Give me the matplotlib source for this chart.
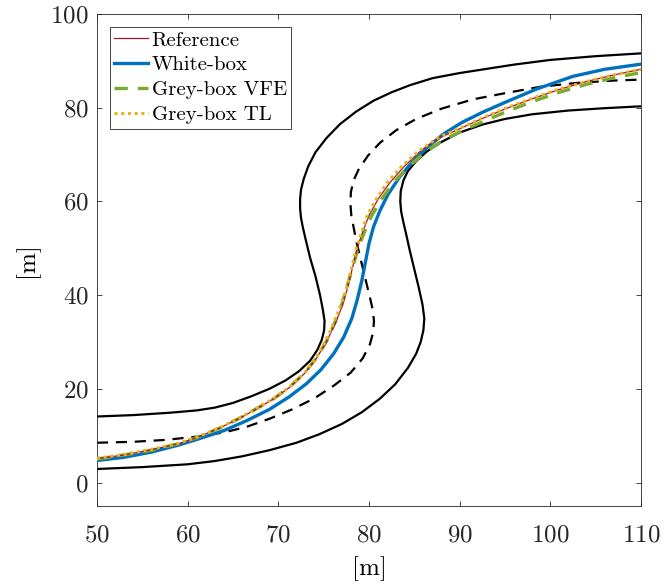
import numpy as np
import matplotlib
matplotlib.use("Agg")
import matplotlib.pyplot as plt

plt.rcParams['font.family'] = 'serif'
plt.rcParams['font.serif'] = ['cmr10']
plt.rcParams['mathtext.fontset'] = 'cm'
plt.rcParams['axes.unicode_minus'] = False
plt.rcParams['axes.formatter.use_mathtext'] = True

# road boundaries and centre line
ub_x = [50, 54, 58, 61, 63, 65, 67, 69, 70.8, 72.3, 73.5, 74.3, 74.8, 75.05, 75.1, 74.9, 74.6,
        74.1, 73.5, 73.0, 72.7, 72.5, 72.4, 72.4, 72.5, 72.8, 73.3, 74.1, 75.3, 76.8, 78.6, 80.5,
        82.5, 84.5, 87, 90, 93, 96, 100, 105, 110]
ub_y = [14.1, 14.4, 14.9, 15.4, 16.0, 17.0, 18.4, 20.0, 21.8, 23.8, 26.0, 28.3, 30.5, 32.5, 34.5,
        37.0, 40.0, 44.0, 48.0, 52.0, 54.5, 56.5, 58.5, 60.5, 62.5, 64.8, 67.5, 70.5, 73.5, 76.5,
        79.2, 81.5, 83.3, 84.8, 86.3, 87.4, 88.3, 89.2, 90.2, 91.0, 91.6]

lb_x = [50, 55, 60, 63, 66, 69, 72, 74.5, 77, 79.2, 81.2, 82.9, 84.3, 85.2, 85.7, 86.0, 86.1,
        85.9, 85.5, 85.0, 84.5, 84.1, 83.8, 83.55, 83.45, 83.5, 83.8, 84.3, 85.2, 86.4, 88.0, 90.0,
        92.5, 95, 98, 102, 106, 110]
lb_y = [2.9, 3.3, 3.9, 4.6, 5.6, 6.9, 8.5, 10.3, 12.5, 15.0, 17.9, 21.0, 24.5, 27.5, 30.0, 32.5,
        35.0, 38.0, 41.5, 45.5, 49.5, 53.0, 55.5, 57.8, 60.0, 62.2, 64.5, 66.5, 68.6, 70.7, 72.7,
        74.7, 76.4, 77.6, 78.6, 79.4, 79.9, 80.3]

cl_x = [50, 54, 57.5, 61, 64, 66.5, 69, 71.5, 74, 76.2, 78, 79.3, 80.1, 80.45, 80.55, 80.4, 80.1,
        79.6, 79.1, 78.6, 78.3, 78.05, 77.95, 78.0, 78.3, 78.9, 79.9, 81.2, 83.0, 85.2, 88.0, 91.5,
        95, 99, 103, 107, 110]
cl_y = [8.5, 8.7, 9.1, 9.8, 10.7, 11.9, 13.6, 15.6, 18.0, 20.8, 23.5, 26.5, 29.5, 32.0, 34.5,
        37.0, 39.5, 43.5, 47.5, 51.5, 54.5, 57.0, 59.5, 62.0, 64.5, 67.0, 69.8, 72.5, 75.2, 77.6,
        79.8, 81.8, 83.1, 84.5, 85.3, 85.8, 86.0]

# trajectories
ref_x = [50, 53, 56, 59, 61, 63.5, 65.8, 67.6, 69.5, 71.3, 72.9, 74.2, 75.3, 76.3, 77.1, 77.7,
         78.2, 78.7, 79.3, 80.0, 81.0, 82.3, 83.9, 85.7, 87.8, 90, 92.5, 95.2, 98, 101, 104, 107, 110]
ref_y = [5.1, 5.9, 7.0, 8.3, 9.6, 11.6, 13.8, 15.7, 17.9, 20.4, 23.3, 26.5, 30.0, 34.0, 38.0,
         42.0, 46.0, 50.0, 53.5, 57.0, 60.5, 64.0, 67.5, 70.8, 73.6, 75.5, 77.7, 79.9, 81.9, 83.9,
         85.6, 87.0, 88.2]

wb_x = [50, 53, 56, 59, 61.5, 64, 66.5, 69, 71.2, 73.1, 74.7, 76.1, 77.2, 78.1, 78.7, 79.2, 79.6,
        80.0, 80.5, 81.2, 82.1, 83.3, 84.8, 86.4, 88.3, 90.2, 92.6, 95.2, 98.5, 102.5, 106, 110]
wb_y = [4.7, 5.4, 6.5, 8.0, 9.5, 11.1, 13.2, 15.6, 18.3, 21.1, 24.1, 27.5, 31.0, 35.0, 39.0, 43.0,
        47.0, 51.0, 54.6, 58.0, 61.5, 65.0, 68.5, 71.5, 74.5, 76.8, 79.1, 81.3, 84.0, 86.7, 88.2, 89.3]

vfe_x = [50, 53, 56, 59, 61, 63.5, 65.8, 67.6, 69.5, 71.3, 72.9, 74.2, 75.3, 76.2, 77.0, 77.6,
         78.2, 78.8, 79.5, 80.3, 81.4, 82.7, 84.3, 86.1, 88.2, 90.4, 92.8, 95.2, 98, 101, 104, 107, 110]
vfe_y = [5.0, 5.9, 6.9, 8.3, 9.6, 11.6, 13.8, 15.8, 17.9, 20.5, 23.4, 26.6, 30.1, 34.0, 38.0,
         42.0, 46.0, 50.0, 53.5, 57.0, 60.5, 64.0, 67.3, 70.4, 73.1, 75.2, 77.2, 79.2, 81.3, 83.3,
         85.0, 86.4, 87.5]

tl_x = [50, 53, 56, 59, 61, 63.5, 65.8, 67.6, 69.5, 71.3, 72.9, 74.2, 75.2, 76.1, 76.9, 77.6,
        78.1, 78.6, 79.2, 79.8, 80.8, 82.0, 83.6, 85.5, 87.7, 90, 92.5, 95.2, 98, 101, 104, 107, 110]
tl_y = [5.2, 6.0, 7.1, 8.4, 9.7, 11.7, 13.9, 15.8, 18.0, 20.5, 23.4, 26.7, 30.2, 34.0, 38.0,
        42.0, 46.0, 50.0, 53.5, 57.0, 60.5, 64.0, 67.5, 70.8, 73.7, 75.6, 77.8, 80.0, 82.0, 84.0,
        85.6, 87.0, 88.2]

fig = plt.figure(figsize=(6.65, 5.88), dpi=100)
ax = fig.add_axes([97 / 665, 82 / 588, 544 / 665, 492 / 588])

ax.plot(ub_x, ub_y, color='black', lw=1.6, zorder=2)
ax.plot(lb_x, lb_y, color='black', lw=1.6, zorder=2)
ax.plot(cl_x, cl_y, color='black', lw=1.6, ls=(0, (5, 3.5)), zorder=2)

h_wb, = ax.plot(wb_x, wb_y, color='#0072BD', lw=2.4, label='White-box', zorder=3)
h_vfe, = ax.plot(vfe_x, vfe_y, color='#77AC30', lw=2.4, ls=(0, (4, 3)), label='Grey-box VFE', zorder=4)
h_ref, = ax.plot(ref_x, ref_y, color='#A2142F', lw=0.9, label='Reference', zorder=5)
h_tl, = ax.plot(tl_x, tl_y, color='#EDB120', lw=2.2, ls=(0, (1, 1.2)), label='Grey-box TL', zorder=6)

ax.set_xlim(50, 110)
ax.set_ylim(-5, 100)
ax.set_xticks([50, 60, 70, 80, 90, 100, 110])
ax.set_yticks([0, 20, 40, 60, 80, 100])
ax.set_xlabel('[m]', fontsize=18, labelpad=7)
ax.set_ylabel('[m]', fontsize=18, labelpad=8)

for s in ax.spines.values():
    s.set_color('#262626')
    s.set_linewidth(0.6)
ax.tick_params(direction='in', top=True, right=True, length=3.5, width=0.6,
               colors='#262626', labelsize=18)
ax.tick_params(axis='x', pad=13)
ax.tick_params(axis='y', pad=6)
for lab in ax.get_xticklabels() + ax.get_yticklabels():
    lab.set_color('#262626')

leg = ax.legend(handles=[h_ref, h_wb, h_vfe, h_tl], loc='upper left', fontsize=15,
                handlelength=1.65, handletextpad=0.15, labelspacing=0.3,
                borderpad=0.22, borderaxespad=0.6, fancybox=False, framealpha=1)
leg.get_frame().set_edgecolor('#262626')
leg.get_frame().set_linewidth(0.6)

fig.savefig('out.png', dpi=100)
